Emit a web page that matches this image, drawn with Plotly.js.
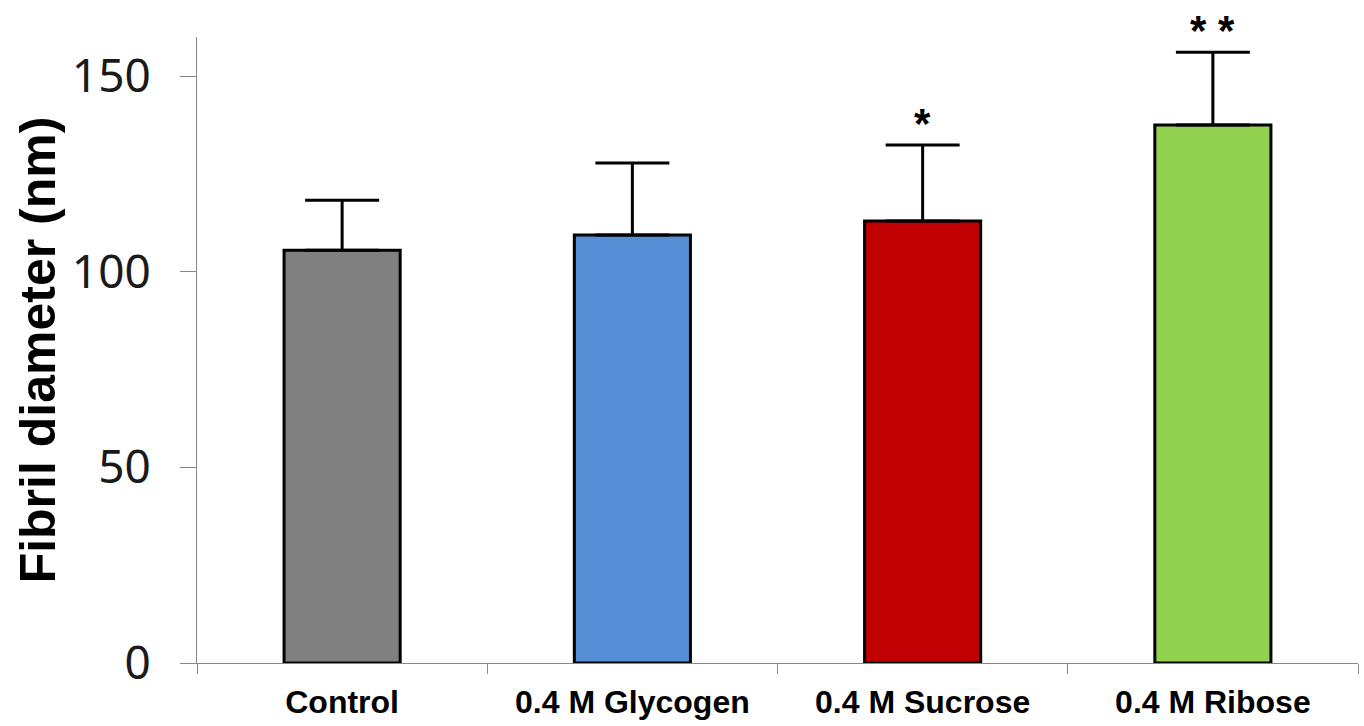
<!DOCTYPE html>
<html>
<head>
<meta charset="utf-8">
<script src="https://cdn.plot.ly/plotly-3.0.1.min.js"></script>
<style>html,body{margin:0;padding:0;background:#fff;}#chart{width:1364px;height:726px;}</style>
</head>
<body>
<div id="chart"></div>
<script>
const categories = ["Control", "0.4 M Glycogen", "0.4 M Sucrose", "0.4 M Ribose"];
const meanValues = [105.5, 109.4, 113.0, 137.5];
const errorValues = [12.8, 18.4, 19.4, 18.6];
const barColors = ["#808080", "#558ED5", "#C00000", "#92D050"];
const significance = ["", "", "*", "* *"];
const yTicks = [0, 50, 100, 150];

const trace = {
  type: "bar",
  x: categories,
  y: meanValues,
  width: 0.4,
  marker: { color: barColors, line: { color: "#000", width: 3 } },
  error_y: {
    type: "data",
    symmetric: false,
    array: errorValues,
    arrayminus: errorValues.map(() => 0),
    color: "#000",
    thickness: 3,
    width: 37
  },
  hoverinfo: "none"
};

const annotations = categories.map((c, i) => ({
  x: c,
  y: meanValues[i] + errorValues[i],
  text: significance[i],
  showarrow: false,
  yanchor: "bottom",
  yshift: -4,
  font: { family: "Liberation Sans, Arial, sans-serif", size: 42, color: "#000", weight: "bold" }
})).filter(a => a.text);

const layout = {
  width: 1364,
  height: 726,
  margin: { l: 197, r: 6, t: 37, b: 63 },
  paper_bgcolor: "#fff",
  plot_bgcolor: "#fff",
  showlegend: false,
  bargap: 0.6,
  xaxis: {
    type: "category",
    showline: true,
    linecolor: "#888",
    linewidth: 1,
    ticks: "outside",
    tickson: "boundaries",
    ticklen: 10,
    tickcolor: "#888",
    tickfont: { family: "Liberation Sans, Arial, sans-serif", size: 32, color: "#000", weight: "bold" },
    ticklabelstandoff: 11,
    showgrid: false,
    zeroline: false
  },
  yaxis: {
    range: [0, 160],
    tickvals: yTicks,
    ticktext: yTicks.map(String),
    showline: true,
    linecolor: "#888",
    linewidth: 1,
    ticks: "outside",
    ticklen: 16,
    tickcolor: "#888",
    tickfont: { family: "Noto Sans, sans-serif", size: 46, color: "#1a1a1a" },
    ticklabelstandoff: 20,
    showgrid: false,
    zeroline: false,
    title: {
      text: "Fibril diameter (nm)",
      font: { family: "Liberation Sans, Arial, sans-serif", size: 50, color: "#000", weight: "bold" },
      standoff: 0
    }
  },
  annotations: annotations
};

Plotly.newPlot("chart", [trace], layout, { displayModeBar: false, staticPlot: true });
</script>
</body>
</html>
